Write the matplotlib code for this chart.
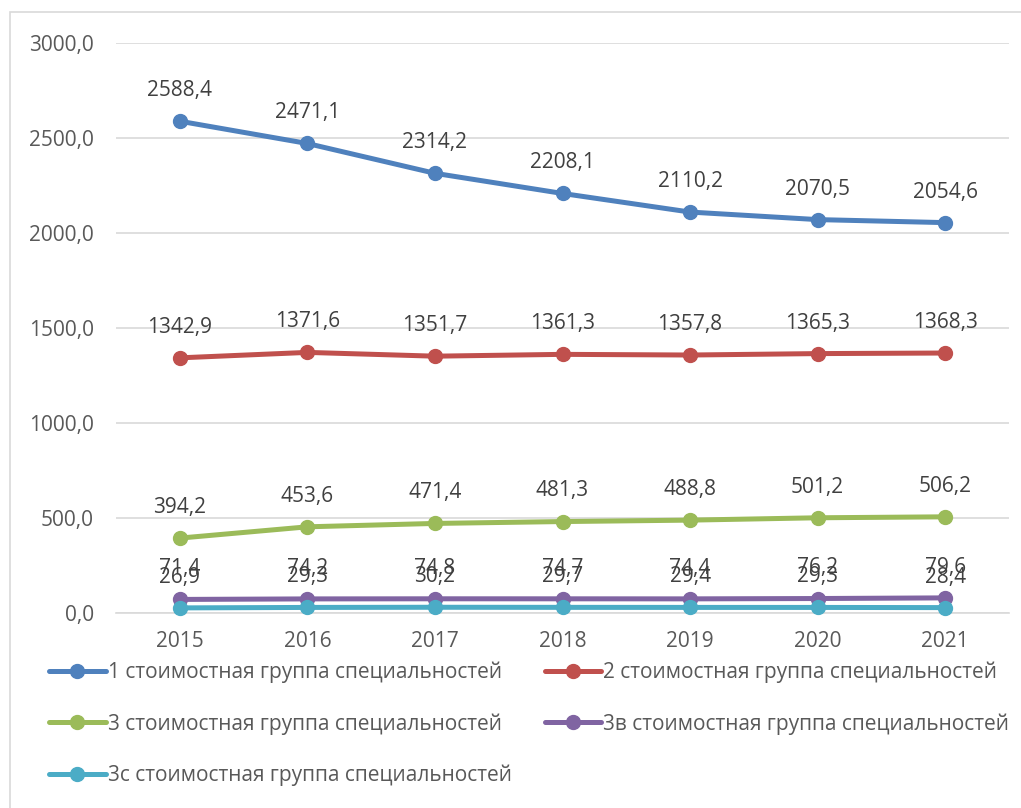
import matplotlib.pyplot as plt
from matplotlib.patches import Rectangle

# data
years = ["2015", "2016", "2017", "2018", "2019", "2020", "2021"]
group1 = [2588.4, 2471.1, 2314.2, 2208.1, 2110.2, 2070.5, 2054.6]
group2 = [1342.9, 1371.6, 1351.7, 1361.3, 1357.8, 1365.3, 1368.3]
group3 = [394.2, 453.6, 471.4, 481.3, 488.8, 501.2, 506.2]
group3v = [71.4, 74.2, 74.8, 74.7, 74.4, 76.2, 79.6]
group3c = [26.9, 29.3, 30.2, 29.7, 29.4, 29.3, 28.4]

labels = [
    "1 стоимостная группа специальностей",
    "2 стоимостная группа специальностей",
    "3 стоимостная группа специальностей",
    "3в стоимостная группа специальностей",
    "3с стоимостная группа специальностей",
]
colors = ["#4F81BD", "#C0504D", "#9BBB59", "#8064A2", "#4BACC6"]
series = [group1, group2, group3, group3v, group3c]

plt.rcParams["font.family"] = ["Open Sans", "DejaVu Sans"]
TXT = "#595959"
FS = 15

fig = plt.figure(figsize=(10.21, 8.08), dpi=100)
ax = fig.add_axes([116 / 1021, 1 - 613 / 808, (1009 - 116) / 1021, (613 - 43) / 808])

# chart border (runs off the right and bottom edges)
fig.patches.append(Rectangle((10 / 1021, -0.1), 1.2, 1.1 - 12 / 808,
                             transform=fig.transFigure, fill=False,
                             edgecolor="#D9D9D9", linewidth=1.2))

x = list(range(len(years)))
handles = []
for vals, col, lab in zip(series, colors, labels):
    h, = ax.plot(x, vals, color=col, linewidth=3.6, marker="o", markersize=10,
                 solid_capstyle="round", label=lab, zorder=3, clip_on=False)
    handles.append(h)
    for xi, v in zip(x, vals):
        ax.annotate(f"{v:.1f}".replace(".", ","), (xi, v), xytext=(0, 22),
                    textcoords="offset points", ha="center", va="center",
                    fontsize=FS, color="#404040", zorder=4)

ax.set_xlim(-0.5, 6.5)
ax.set_ylim(0, 3000)
ax.set_yticks(range(0, 3001, 500))
ax.set_yticklabels([f"{v},0" for v in range(0, 3001, 500)])
ax.set_xticks(x)
ax.set_xticklabels(years)
ax.tick_params(length=0, labelsize=FS, labelcolor=TXT)
ax.tick_params(axis="y", pad=16)
ax.tick_params(axis="x", pad=13)
ax.grid(axis="y", color="#D9D9D9", linewidth=1.2)
ax.set_axisbelow(True)
for s in ["top", "right", "left"]:
    ax.spines[s].set_visible(False)
ax.spines["bottom"].set_color("#D9D9D9")
ax.spines["bottom"].set_linewidth(1.2)

# row-wise legend order: matplotlib fills columns first
order = [0, 2, 4, 1, 3]
leg = fig.legend(handles=[handles[i] for i in order], ncol=2, loc="upper left",
                 bbox_to_anchor=(41 / 1021, 1 - 653 / 808), frameon=False,
                 fontsize=FS, handlelength=2.7, handletextpad=0.1,
                 columnspacing=1.58, labelspacing=1.45, borderaxespad=0)
for t in leg.get_texts():
    t.set_color(TXT)

fig.savefig("out.png", dpi=100)
